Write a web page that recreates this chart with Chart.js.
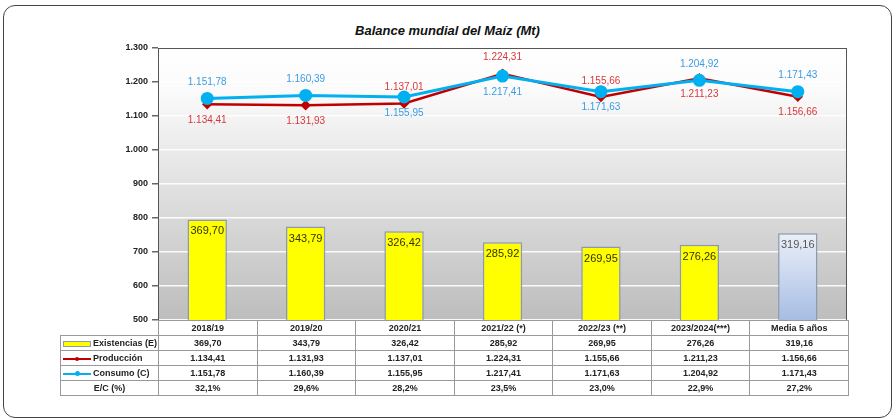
<!DOCTYPE html>
<html lang="es">
  <head>
    <meta charset="UTF-8" />
    <title>Balance mundial del Maíz</title>
    <script src="https://cdn.jsdelivr.net/npm/chart.js"></script>
    <style>
      body { margin: 0; background: #fff; font-family: "Liberation Sans", Arial, sans-serif; }
      #marco {
        position: absolute; left: 3px; top: 5px; width: 887px; height: 411px;
        border: 1px solid #444; border-radius: 12px;
      }
      #titulo {
        position: absolute; left: 0; top: 23px; width: 895px; text-align: center;
        font: italic bold 13px "Liberation Sans", Arial, sans-serif; color: #111;
      }
      canvas { position: absolute; left: 0; top: 0; }
      table {
        position: absolute; left: 60px; top: 320px; width: 788px; border-collapse: collapse;
        table-layout: fixed; font: bold 9px "Liberation Sans", Arial, sans-serif; color: #222;
      }
      td { border: 1px solid #999; height: 14px; padding: 0; text-align: center; white-space: nowrap; overflow: hidden; }
      td.vacio { border: none; }
      td.ley { text-align: left; padding-left: 2px; }
      .clave { display: inline-block; width: 28px; height: 8px; position: relative; vertical-align: middle; margin-right: 2px; }
      .caja { position: absolute; left: 0; top: 1px; width: 26px; height: 4px; background: #ffff00; border: 1px solid #8a9ab0; }
      .linea { position: absolute; left: 0; top: 3px; width: 28px; height: 2px; }
      .punto { position: absolute; left: 12px; top: 1px; width: 5px; height: 5px; border-radius: 50%; }
    </style>
  </head>
  <body>
    <div id="marco"></div>
    <div id="titulo">Balance mundial del Maíz (Mt)</div>
    <canvas id="myChart" width="895" height="420"></canvas>
    <table id="tabla"></table>

    <script>
      // datos
      const categorias = ["2018/19", "2019/20", "2020/21", "2021/22 (*)", "2022/23 (**)", "2023/2024(***)", "Media 5 años"];
      const existencias = [369.70, 343.79, 326.42, 285.92, 269.95, 276.26, 319.16];
      const produccion = [1134.41, 1131.93, 1137.01, 1224.31, 1155.66, 1211.23, 1156.66];
      const consumo = [1151.78, 1160.39, 1155.95, 1217.41, 1171.63, 1204.92, 1171.43];
      const ratioEC = [32.1, 29.6, 28.2, 23.5, 23.0, 22.9, 27.2];

      // dónde va cada etiqueta (arriba / abajo del punto)
      const posProd = ["below", "below", "above", "above", "above", "below", "below"];
      const posCons = ["above", "above", "below", "below", "below", "above", "above"];

      // formato español 1.234,56
      function fmt(v, dec) {
        const partes = v.toFixed(dec).split(".");
        const ent = partes[0].replace(/\B(?=(\d{3})+(?!\d))/g, ".");
        return partes.length > 1 ? ent + "," + partes[1] : ent;
      }

      // tabla de datos
      function drawTable() {
        const t = document.getElementById("tabla");
        let html = '<colgroup><col style="width:98px">';
        categorias.forEach(() => (html += '<col style="width:98.57px">'));
        html += "</colgroup>";
        html += '<tr><td class="vacio"></td>' + categorias.map((c) => "<td>" + c + "</td>").join("") + "</tr>";
        html += '<tr><td class="ley"><span class="clave"><span class="caja"></span></span>Existencias (E)</td>' +
          existencias.map((v) => "<td>" + fmt(v, 2) + "</td>").join("") + "</tr>";
        html += '<tr><td class="ley"><span class="clave"><span class="linea" style="background:#c00000"></span>' +
          '<span class="punto" style="background:#c00000;width:4px;height:4px;top:2px"></span></span>Producción</td>' +
          produccion.map((v) => "<td>" + fmt(v, 2) + "</td>").join("") + "</tr>";
        html += '<tr><td class="ley"><span class="clave"><span class="linea" style="background:#00b0f0"></span>' +
          '<span class="punto" style="background:#00b0f0"></span></span>Consumo (C)</td>' +
          consumo.map((v) => "<td>" + fmt(v, 2) + "</td>").join("") + "</tr>";
        html += "<tr><td>E/C (%)</td>" + ratioEC.map((v) => "<td>" + fmt(v, 1) + "%</td>").join("") + "</tr>";
        t.innerHTML = html;
      }
      drawTable();

      // fondo degradado + borde del área
      const fondoPlugin = {
        id: "fondo",
        beforeDraw(chart) {
          const { ctx, chartArea: a } = chart;
          const g = ctx.createLinearGradient(0, a.top, 0, a.bottom);
          g.addColorStop(0, "#ffffff");
          g.addColorStop(0.15, "#fbfbfb");
          g.addColorStop(1, "#bdbdbd");
          ctx.save();
          ctx.fillStyle = g;
          ctx.fillRect(a.left, a.top, a.right - a.left, a.bottom - a.top);
          ctx.restore();
        },
        afterDraw(chart) {
          const { ctx, chartArea: a } = chart;
          ctx.save();
          ctx.strokeStyle = "#555";
          ctx.lineWidth = 1;
          ctx.strokeRect(a.left + 0.5, a.top + 0.5, a.right - a.left - 1, a.bottom - a.top);
          ctx.restore();
        },
      };

      // etiquetas de valores
      const etiquetasPlugin = {
        id: "etiquetas",
        afterDatasetsDraw(chart) {
          const ctx = chart.ctx;
          ctx.save();
          ctx.textAlign = "center";
          ctx.textBaseline = "middle";
          chart.data.datasets.forEach((ds, di) => {
            const meta = chart.getDatasetMeta(di);
            meta.data.forEach((el, i) => {
              if (ds.type === "bar") {
                ctx.font = '11px "Liberation Sans", Arial, sans-serif';
                ctx.fillStyle = i === 6 ? "#555" : "#333300";
                ctx.fillText(fmt(ds.data[i], 2), el.x, el.y + 12);
              } else {
                const pos = ds.pos[i];
                ctx.font = '10px "Liberation Sans", Arial, sans-serif';
                ctx.fillStyle = ds.labelColor;
                ctx.fillText(fmt(ds.data[i], 2), el.x, pos === "above" ? el.y - 16 : el.y + 16);
              }
            });
          });
          ctx.restore();
        },
      };

      function drawChart() {
        const ctx = document.getElementById("myChart");

        const data = {
          labels: categorias,
          datasets: [
            {
              type: "line",
              label: "Producción",
              data: produccion,
              borderColor: "#c00000",
              backgroundColor: "#c00000",
              borderWidth: 2.5,
              pointStyle: "rectRot",
              pointRadius: 3.5,
              pos: posProd,
              labelColor: "#d9383a",
              order: 1,
            },
            {
              type: "line",
              label: "Consumo (C)",
              data: consumo,
              borderColor: "#00b0f0",
              backgroundColor: "#00b0f0",
              borderWidth: 3,
              pointRadius: 5,
              pos: posCons,
              labelColor: "#3c9be1",
              order: 0,
            },
            {
              type: "bar",
              label: "Existencias (E)",
              data: existencias,
              yAxisID: "y2",
              backgroundColor: (c) => {
                if (c.dataIndex !== 6) return "#ffff00";
                const a = c.chart.chartArea;
                if (!a) return "#c8d6ee";
                const g = c.chart.ctx.createLinearGradient(0, 230, 0, a.bottom);
                g.addColorStop(0, "#eef2fa");
                g.addColorStop(1, "#a7bde3");
                return g;
              },
              borderColor: "#8a9ab0",
              borderWidth: 1.5,
              barPercentage: 0.4,
              categoryPercentage: 1.0,
              order: 2,
            },
          ],
        };

        const options = {
          responsive: false,
          animation: false,
          layout: { padding: { left: 100, right: 48, top: 48, bottom: 100 } },
          plugins: { legend: { display: false }, tooltip: { enabled: false }, title: { display: false } },
          scales: {
            x: { display: false, offset: true },
            y: {
              min: 500,
              max: 1300,
              ticks: {
                stepSize: 100,
                padding: 4,
                color: "#222",
                font: { family: '"Liberation Sans", Arial, sans-serif', size: 9, weight: "bold" },
                callback: (v) => fmt(v, 0),
              },
              grid: { color: "rgba(255,255,255,0.9)", lineWidth: 1.5, tickColor: "#666", tickLength: 6 },
              border: { color: "#555" },
              afterFit: (s) => { s.width = 58; },
            },
            y2: { display: false, min: 0, max: 1000 },
          },
        };

        new Chart(ctx, { data: data, options: options, plugins: [fondoPlugin, etiquetasPlugin] });
      }
      drawChart();
    </script>
  </body>
</html>
